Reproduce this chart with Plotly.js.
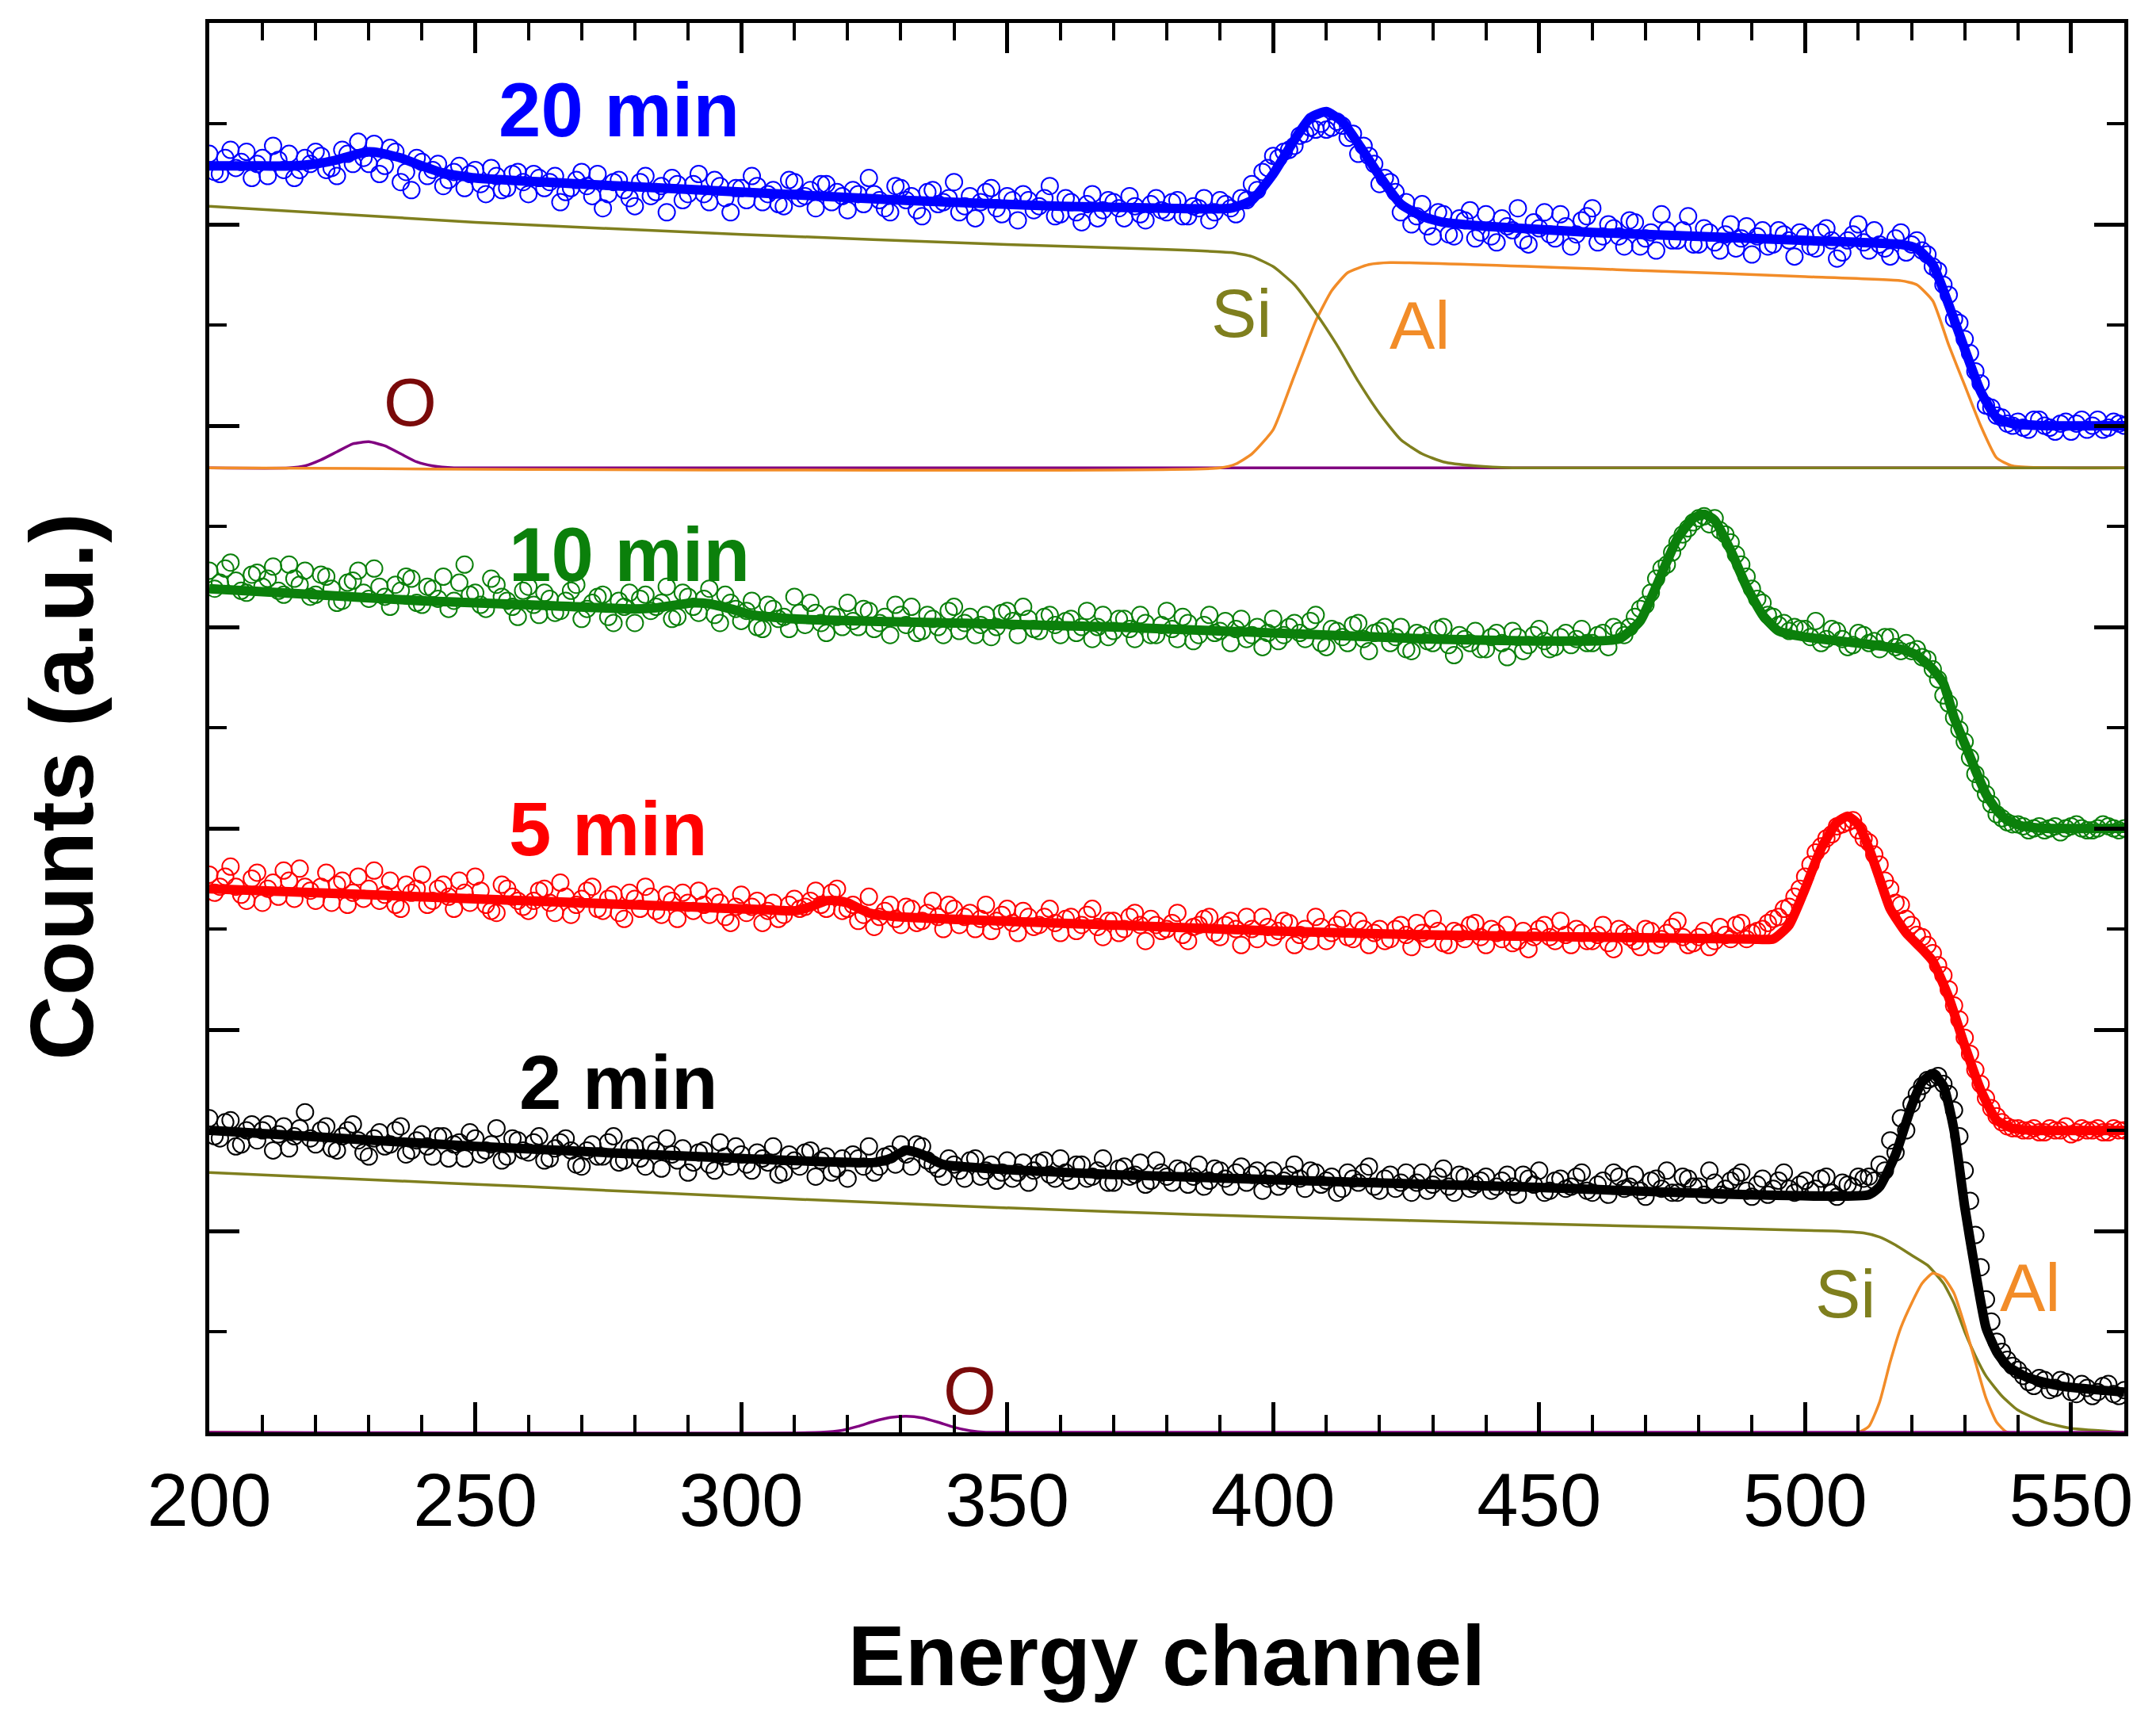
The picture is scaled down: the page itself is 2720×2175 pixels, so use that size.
<!DOCTYPE html>
<html>
<head>
<meta charset="utf-8">
<script src="https://cdn.plot.ly/plotly-3.0.1.min.js"></script>
<style>html,body{margin:0;padding:0;background:#fff;}#chart{width:2720px;height:2175px;}</style>
</head>
<body>
<div id="chart"></div>
<script>
// ---------- measured spectra: even channels ----------
const channels = [
200,202,204,206,208,210,212,214,216,218,
220,222,224,226,228,230,232,234,236,238,
240,242,244,246,248,250,252,254,256,258,
260,262,264,266,268,270,272,274,276,278,
280,282,284,286,288,290,292,294,296,298,
300,302,304,306,308,310,312,314,316,318,
320,322,324,326,328,330,332,334,336,338,
340,342,344,346,348,350,352,354,356,358,
360,362,364,366,368,370,372,374,376,378,
380,382,384,386,388,390,392,394,396,398,
400,402,404,406,408,410,412,414,416,418,
420,422,424,426,428,430,432,434,436,438,
440,442,444,446,448,450,452,454,456,458,
460,462,464,466,468,470,472,474,476,478,
480,482,484,486,488,490,492,494,496,498,
500,502,504,506,508,510,512,514,516,518,
520,522,524,526,528,530,532,534,536,538,
540,542,544,546,548,550,552,554,556,558,
560];

const data20 = [
6.35,6.25,6.37,6.31,6.23,6.33,6.39,6.27,6.23,6.33,
6.36,6.27,6.24,6.35,6.41,6.30,6.25,6.38,6.21,6.17,
6.31,6.27,6.19,6.26,6.18,6.27,6.15,6.24,6.18,6.26,
6.15,6.23,6.21,6.11,6.18,6.26,6.14,6.08,6.21,6.17,
6.09,6.24,6.16,6.06,6.20,6.15,6.25,6.11,6.19,6.06,
6.18,6.24,6.11,6.17,6.09,6.21,6.14,6.08,6.20,6.16,
6.07,6.15,6.23,6.12,6.06,6.18,6.14,6.04,6.17,6.11,
6.21,6.09,6.03,6.16,6.08,6.14,6.02,6.12,6.09,6.19,
6.05,6.11,6.01,6.15,6.07,6.11,6.03,6.09,6.02,6.13,
6.06,6.12,6.04,6.08,6.02,6.12,6.08,6.13,6.20,6.26,
6.34,6.36,6.39,6.45,6.47,6.47,6.51,6.43,6.35,6.34,
6.20,6.21,6.06,6.00,6.10,5.94,6.05,5.94,6.02,5.93,
6.05,5.91,5.99,6.08,5.90,5.98,5.95,6.05,5.89,6.02,
6.08,5.94,5.98,5.89,6.01,5.93,5.87,5.97,5.92,6.04,
5.90,5.96,5.87,6.00,5.93,5.85,5.97,5.90,5.95,5.84,
5.94,5.88,5.98,5.83,5.92,6.00,5.87,5.90,5.84,5.96,
5.90,5.87,5.79,5.70,5.53,5.43,5.27,5.10,5.05,5.01,
5.02,4.98,5.03,4.99,5.01,4.97,5.03,5.00,4.98,5.02,
5.00];

const data10 = [
4.28,4.22,4.32,4.18,4.26,4.20,4.30,4.16,4.24,4.28,
4.16,4.25,4.12,4.22,4.28,4.14,4.20,4.10,4.18,4.24,
4.11,4.19,4.25,4.13,4.31,4.17,4.09,4.21,4.13,4.05,
4.20,4.06,4.14,4.08,4.18,4.04,4.12,4.16,4.02,4.10,
4.02,4.16,4.10,4.20,4.05,4.15,4.07,4.19,4.02,4.12,
4.03,4.13,3.99,4.09,4.05,4.15,4.01,4.07,3.97,4.05,
4.12,4.00,4.08,4.02,3.96,4.06,4.10,3.98,4.04,3.96,
4.10,4.02,3.96,4.06,4.00,4.08,3.96,4.04,3.98,4.06,
3.96,4.04,4.00,3.94,4.06,3.98,4.04,3.94,4.02,3.96,
4.08,3.94,4.02,3.96,4.06,3.98,3.92,4.04,3.96,3.90,
4.04,3.96,4.02,3.94,4.06,3.90,3.98,3.92,4.02,3.88,
3.98,3.92,4.00,3.88,3.96,3.92,4.00,3.86,3.94,3.98,
3.89,3.97,3.85,3.95,3.91,3.99,3.89,3.95,3.91,3.99,
3.92,3.97,4.00,3.96,4.05,4.11,4.24,4.31,4.42,4.49,
4.54,4.51,4.48,4.42,4.31,4.19,4.12,4.05,4.02,4.00,
3.99,4.03,3.94,3.98,3.90,3.97,3.92,3.89,3.95,3.88,
3.88,3.85,3.79,3.66,3.55,3.43,3.27,3.17,3.07,3.03,
3.02,2.99,3.01,3.00,2.98,3.01,3.00,2.99,3.02,3.00,
3.00];

const data5 = [
2.77,2.71,2.81,2.67,2.75,2.63,2.73,2.79,2.65,2.71,
2.64,2.78,2.72,2.62,2.76,2.70,2.64,2.74,2.60,2.68,
2.77,2.64,2.72,2.60,2.68,2.76,2.62,2.58,2.70,2.64,
2.59,2.69,2.63,2.73,2.57,2.65,2.71,2.59,2.67,2.55,
2.65,2.71,2.59,2.67,2.55,2.63,2.69,2.57,2.63,2.53,
2.67,2.61,2.53,2.63,2.57,2.65,2.61,2.69,2.60,2.70,
2.60,2.54,2.66,2.56,2.62,2.52,2.60,2.54,2.64,2.50,
2.60,2.56,2.50,2.62,2.54,2.60,2.48,2.56,2.52,2.60,
2.48,2.56,2.52,2.60,2.46,2.54,2.50,2.58,2.44,2.52,
2.50,2.58,2.44,2.52,2.56,2.46,2.54,2.42,2.50,2.56,
2.46,2.54,2.42,2.50,2.56,2.44,2.52,2.46,2.54,2.42,
2.50,2.45,2.52,2.41,2.48,2.55,2.43,2.49,2.45,2.53,
2.42,2.48,2.52,2.44,2.40,2.50,2.46,2.54,2.42,2.48,
2.44,2.52,2.40,2.48,2.44,2.50,2.42,2.48,2.54,2.42,
2.46,2.41,2.51,2.45,2.53,2.48,2.50,2.55,2.60,2.66,
2.76,2.88,2.95,3.01,3.03,2.99,2.93,2.82,2.70,2.62,
2.52,2.46,2.38,2.27,2.12,1.96,1.80,1.66,1.57,1.52,
1.51,1.50,1.49,1.51,1.50,1.48,1.51,1.50,1.49,1.51,
1.50];

const data2 = [
1.56,1.46,1.55,1.43,1.53,1.50,1.40,1.52,1.47,1.59,
1.43,1.52,1.40,1.50,1.45,1.37,1.49,1.43,1.52,1.40,
1.48,1.37,1.47,1.43,1.36,1.46,1.40,1.51,1.37,1.45,
1.39,1.47,1.36,1.44,1.40,1.32,1.43,1.37,1.47,1.35,
1.42,1.32,1.40,1.46,1.35,1.29,1.39,1.33,1.44,1.32,
1.38,1.30,1.36,1.42,1.29,1.35,1.39,1.27,1.37,1.31,
1.26,1.36,1.42,1.32,1.38,1.43,1.32,1.42,1.33,1.27,
1.33,1.26,1.36,1.30,1.25,1.35,1.29,1.24,1.34,1.28,
1.36,1.25,1.33,1.27,1.36,1.24,1.32,1.28,1.23,1.35,
1.27,1.31,1.23,1.33,1.25,1.30,1.22,1.32,1.28,1.20,
1.30,1.25,1.33,1.21,1.29,1.25,1.19,1.29,1.24,1.32,
1.20,1.28,1.24,1.19,1.29,1.23,1.31,1.19,1.27,1.23,
1.27,1.22,1.28,1.18,1.26,1.30,1.20,1.26,1.22,1.29,
1.19,1.25,1.29,1.21,1.28,1.17,1.26,1.30,1.19,1.26,
1.22,1.30,1.18,1.25,1.29,1.17,1.26,1.21,1.29,1.19,
1.25,1.21,1.27,1.17,1.23,1.27,1.27,1.33,1.45,1.56,
1.63,1.72,1.76,1.73,1.60,1.30,0.98,0.66,0.45,0.36,
0.31,0.25,0.27,0.21,0.26,0.20,0.24,0.18,0.23,0.19,
0.21];

// ---------- measured spectra: odd channels ----------
const channelsOdd = [
201,203,205,207,209,211,213,215,217,219,
221,223,225,227,229,231,233,235,237,239,
241,243,245,247,249,251,253,255,257,259,
261,263,265,267,269,271,273,275,277,279,
281,283,285,287,289,291,293,295,297,299,
301,303,305,307,309,311,313,315,317,319,
321,323,325,327,329,331,333,335,337,339,
341,343,345,347,349,351,353,355,357,359,
361,363,365,367,369,371,373,375,377,379,
381,383,385,387,389,391,393,395,397,399,
401,403,405,407,409,411,413,415,417,419,
421,423,425,427,429,431,433,435,437,439,
441,443,445,447,449,451,453,455,457,459,
461,463,465,467,469,471,473,475,477,479,
481,483,485,487,489,491,493,495,497,499,
501,503,505,507,509,511,513,515,517,519,
521,523,525,527,529,531,533,535,537,539,
541,543,545,547,549,551,553,555,557,559];

const data20Odd = [
6.26,6.33,6.28,6.36,6.30,6.24,6.32,6.35,6.27,6.30,
6.34,6.28,6.37,6.30,6.33,6.40,6.29,6.36,6.26,6.33,
6.24,6.30,6.22,6.29,6.25,6.20,6.28,6.17,6.25,6.21,
6.25,6.18,6.24,6.16,6.22,6.19,6.25,6.15,6.22,6.13,
6.21,6.14,6.19,6.23,6.12,6.20,6.15,6.22,6.13,6.18,
6.12,6.19,6.15,6.10,6.22,6.13,6.17,6.20,6.11,6.14,
6.17,6.10,6.15,6.08,6.19,6.12,6.07,6.16,6.10,6.13,
6.06,6.14,6.11,6.18,6.05,6.12,6.15,6.07,6.13,6.04,
6.13,6.06,6.10,6.03,6.12,6.08,6.14,6.05,6.10,6.07,
6.11,6.04,6.09,6.13,6.06,6.10,6.05,6.12,6.17,6.28,
6.33,6.37,6.44,6.48,6.50,6.48,6.49,6.45,6.39,6.30,
6.23,6.16,6.11,6.04,5.99,6.06,5.95,6.03,6.07,5.96,
5.94,6.03,5.97,5.92,6.01,6.06,5.93,5.99,5.95,6.04,
5.91,6.00,5.94,6.02,5.89,5.96,6.05,5.92,5.97,5.90,
5.98,5.91,5.95,5.88,5.99,5.94,5.89,5.97,5.92,5.96,
5.89,5.96,5.92,5.86,5.95,5.91,5.97,5.88,5.93,5.86,
5.92,5.85,5.77,5.65,5.51,5.36,5.21,5.09,5.04,5.00,
4.99,5.03,5.00,4.97,5.02,5.01,4.98,5.03,4.99,5.01];

const data10Odd = [
4.19,4.29,4.23,4.17,4.27,4.24,4.18,4.31,4.21,4.15,
4.26,4.19,4.13,4.23,4.17,4.29,4.15,4.21,4.25,4.12,
4.20,4.14,4.09,4.22,4.16,4.11,4.24,4.15,4.10,4.18,
4.11,4.17,4.07,4.13,4.21,4.09,4.15,4.05,4.13,4.17,
4.14,4.08,4.12,4.04,4.17,4.10,4.14,4.06,4.16,4.09,
4.08,4.00,4.11,4.04,3.99,4.07,4.12,4.02,4.06,4.00,
4.03,4.09,3.99,4.05,4.11,4.01,3.97,4.06,4.00,4.08,
3.98,4.05,4.01,3.95,4.07,4.03,4.10,3.99,4.05,4.01,
4.03,3.97,4.08,4.00,3.95,4.04,3.99,4.06,3.96,4.01,
3.99,4.05,3.93,4.01,3.97,4.03,3.99,3.94,4.00,3.97,
3.93,4.00,3.97,4.03,3.92,3.99,3.95,4.01,3.94,3.97,
4.00,3.95,3.89,3.97,3.93,3.99,3.91,3.96,3.92,3.89,
3.95,3.92,3.98,3.88,3.96,3.93,3.90,3.97,3.94,3.92,
3.96,3.90,3.98,4.00,4.09,4.17,4.29,4.37,4.46,4.52,
4.55,4.54,4.46,4.36,4.25,4.14,4.06,4.01,3.98,3.99,
3.95,3.92,3.99,3.94,3.91,3.96,3.93,3.95,3.90,3.92,
3.89,3.84,3.74,3.62,3.49,3.35,3.22,3.12,3.05,3.02,
3.01,3.00,2.99,3.01,3.00,3.02,2.99,3.00,3.01,2.99];

const data5Odd = [
2.68,2.76,2.71,2.64,2.78,2.70,2.66,2.74,2.80,2.69,
2.71,2.63,2.74,2.68,2.65,2.79,2.67,2.62,2.72,2.70,
2.62,2.70,2.66,2.74,2.63,2.69,2.59,2.72,2.66,2.61,
2.64,2.70,2.58,2.66,2.62,2.69,2.60,2.65,2.58,2.68,
2.60,2.66,2.57,2.64,2.68,2.59,2.62,2.66,2.56,2.61,
2.58,2.64,2.59,2.55,2.62,2.60,2.64,2.62,2.68,2.59,
2.62,2.57,2.51,2.59,2.55,2.61,2.53,2.58,2.56,2.62,
2.52,2.58,2.55,2.49,2.57,2.53,2.59,2.51,2.56,2.53,
2.55,2.49,2.57,2.51,2.54,2.48,2.56,2.52,2.55,2.49,
2.53,2.47,2.51,2.55,2.48,2.52,2.50,2.56,2.45,2.51,
2.49,2.53,2.47,2.44,2.51,2.48,2.55,2.45,2.50,2.48,
2.44,2.50,2.47,2.53,2.45,2.49,2.42,2.48,2.52,2.46,
2.50,2.45,2.43,2.49,2.46,2.52,2.44,2.47,2.50,2.44,
2.47,2.43,2.50,2.46,2.41,2.49,2.45,2.51,2.46,2.43,
2.49,2.44,2.47,2.52,2.45,2.49,2.53,2.56,2.61,2.70,
2.82,2.91,2.97,3.02,3.04,2.95,2.87,2.74,2.63,2.55,
2.47,2.42,2.32,2.20,2.05,1.88,1.73,1.61,1.54,1.51,
1.50,1.51,1.49,1.50,1.52,1.49,1.50,1.51,1.49,1.50];

const data2Odd = [
1.47,1.54,1.42,1.50,1.45,1.53,1.48,1.41,1.51,1.46,
1.50,1.41,1.47,1.53,1.39,1.46,1.42,1.50,1.38,1.45,
1.42,1.47,1.36,1.44,1.49,1.38,1.43,1.35,1.46,1.40,
1.44,1.35,1.41,1.46,1.33,1.40,1.37,1.44,1.34,1.41,
1.36,1.43,1.31,1.38,1.41,1.34,1.40,1.30,1.37,1.42,
1.33,1.39,1.34,1.28,1.38,1.32,1.40,1.35,1.29,1.36,
1.38,1.32,1.29,1.37,1.33,1.38,1.43,1.35,1.31,1.36,
1.30,1.35,1.27,1.33,1.29,1.26,1.34,1.30,1.35,1.26,
1.29,1.33,1.26,1.30,1.24,1.31,1.27,1.34,1.25,1.29,
1.24,1.30,1.27,1.22,1.31,1.26,1.29,1.24,1.30,1.26,
1.22,1.28,1.26,1.30,1.23,1.27,1.21,1.26,1.29,1.22,
1.26,1.21,1.29,1.24,1.20,1.27,1.22,1.28,1.21,1.25,
1.20,1.25,1.22,1.28,1.23,1.19,1.25,1.21,1.27,1.20,
1.23,1.18,1.27,1.22,1.20,1.25,1.21,1.19,1.27,1.22,
1.18,1.24,1.21,1.27,1.20,1.23,1.18,1.25,1.21,1.23,
1.20,1.26,1.19,1.24,1.22,1.26,1.25,1.30,1.39,1.50,
1.68,1.75,1.77,1.68,1.47,1.15,0.82,0.55,0.40,0.33,
0.28,0.23,0.26,0.22,0.25,0.19,0.22,0.20,0.24,0.18];

// ---------- fitted curves ----------
const fit20X = [200,210,216,220,224,228,230,232,236,240,244,250,270,300,330,360,380,392,396,400,404,407,410,413,416,420,424,428,432,440,460,480,500,518,521,524,527,530,533,536,539,545,560];
const fit20Y = [6.29,6.29,6.29,6.30,6.32,6.35,6.36,6.355,6.33,6.29,6.255,6.23,6.20,6.16,6.12,6.09,6.08,6.08,6.12,6.25,6.42,6.53,6.56,6.51,6.40,6.24,6.10,6.04,6.01,5.99,5.96,5.94,5.92,5.90,5.88,5.80,5.60,5.38,5.17,5.04,5.01,5.00,5.00];

const fit10X = [200,220,240,260,280,284,288,291,294,298,302,310,340,370,400,430,455,465,469,472,476,479,481,483,486,489,492,495,500,510,518,521,524,526,528,530,532,534,536,538,541,545,560];
const fit10Y = [4.19,4.16,4.13,4.11,4.09,4.095,4.11,4.12,4.115,4.09,4.06,4.04,4.02,4.00,3.97,3.94,3.93,3.94,4.03,4.20,4.44,4.54,4.56,4.53,4.38,4.20,4.06,3.98,3.95,3.92,3.89,3.86,3.79,3.72,3.55,3.42,3.29,3.17,3.09,3.04,3.01,3.00,3.00];

const fit5X = [200,230,260,290,305,310,313,316,318,320,324,330,370,400,430,460,490,494,497,500,503,506,508,510,512,514,516,519,522,524,527,530,533,536,539,543,560];
const fit5Y = [2.70,2.67,2.64,2.61,2.595,2.59,2.61,2.64,2.64,2.63,2.58,2.56,2.52,2.49,2.47,2.46,2.45,2.45,2.52,2.70,2.90,3.03,3.06,3.02,2.90,2.75,2.60,2.48,2.40,2.34,2.16,1.92,1.70,1.55,1.51,1.50,1.50];

const fit2X = [200,250,300,325,328,331,334,338,370,445,512,514,517,520,522,524,526,528,530,532,534,536,538,542,548,560];
const fit2Y = [1.50,1.42,1.36,1.34,1.36,1.40,1.38,1.33,1.28,1.22,1.18,1.22,1.38,1.62,1.74,1.78,1.72,1.50,1.12,0.80,0.52,0.40,0.33,0.27,0.23,0.20];

// ---------- fit components, 20 min ----------
const siTopX = [200,250,300,350,380,392,396,400,404,408,412,416,420,424,428,432,438,445,560];
const siTopY = [6.09,6.01,5.95,5.90,5.875,5.86,5.84,5.79,5.70,5.56,5.40,5.22,5.06,4.93,4.86,4.82,4.80,4.79,4.79];
const alTopX = [200,390,393,396,400,404,408,411,414,418,422,470,500,518,521,524,527,530,533,536,539,560];
const alTopY = [4.79,4.79,4.81,4.86,4.98,5.25,5.52,5.67,5.76,5.80,5.81,5.77,5.74,5.72,5.70,5.62,5.40,5.20,5.00,4.84,4.80,4.79];
const oTopX = [200,215,218,221,224,227,230,233,236,239,242,246,560];
const oTopY = [4.79,4.79,4.80,4.83,4.87,4.91,4.92,4.90,4.86,4.82,4.80,4.79,4.79];

// ---------- fit components, 2 min ----------
const siBotX = [200,230,260,300,340,370,400,450,505,511,514,517,520,523,526,528,530,532,534,537,540,545,550,560];
const siBotY = [1.29,1.255,1.22,1.17,1.125,1.095,1.07,1.035,1.00,0.99,0.97,0.93,0.88,0.83,0.74,0.64,0.50,0.38,0.28,0.18,0.11,0.05,0.02,0.00];
const alBotX = [200,510,512,514,516,518,520,522,524,526,528,530,532,534,536,538,560];
const alBotY = [0,0,0.03,0.15,0.35,0.52,0.64,0.74,0.79,0.77,0.69,0.53,0.35,0.17,0.05,0,0];
const oBotX = [200,315,319,322,325,328,331,334,337,340,343,346,560];
const oBotY = [0,0,0.01,0.03,0.055,0.074,0.08,0.072,0.05,0.025,0.008,0,0];

// ---------- labels ----------
const seriesNames = ['20 min','10 min','5 min','2 min'];
const elementNames = ['Si','Al','O'];
const xTitle = 'Energy channel';
const yTitle = 'Counts (a.u.)';

// ---------- styling ----------
const FONT = 'Arial, "Liberation Sans", Helvetica, sans-serif';
const C = {
  blue:'#0000ff', green:'#0b800b', red:'#ff0000', black:'#000000',
  olive:'#7f7f1e', orange:'#f28c28', purple:'#800080', oLabel:'#7a0a0a'
};

function comp(x, y, color) {
  return {x:x, y:y, type:'scatter', mode:'lines', line:{color:color, width:3.5, shape:'spline', smoothing:0.5}, hoverinfo:'skip'};
}
function pts(x, y, color) {
  return {x:x, y:y, type:'scatter', mode:'markers',
    marker:{symbol:'circle-open', size:21, color:color, line:{width:2, color:color}}};
}
function fit(x, y, color) {
  return {x:x, y:y, type:'scatter', mode:'lines', line:{color:color, width:12, shape:'spline', smoothing:0.5}};
}

const traces = [
  comp(oTopX, oTopY, C.purple),
  comp(alTopX, alTopY, C.orange),
  comp(siTopX, siTopY, C.olive),
  comp(siBotX, siBotY, C.olive),
  comp(alBotX, alBotY, C.orange),
  comp(oBotX, oBotY, C.purple),
  pts(channels, data20, C.blue), pts(channelsOdd, data20Odd, C.blue),
  pts(channels, data10, C.green), pts(channelsOdd, data10Odd, C.green),
  pts(channels, data5, C.red), pts(channelsOdd, data5Odd, C.red),
  pts(channels, data2, C.black), pts(channelsOdd, data2Odd, C.black),
  fit(fit20X, fit20Y, C.blue), fit(fit10X, fit10Y, C.green), fit(fit5X, fit5Y, C.red), fit(fit2X, fit2Y, C.black)
];

function lab(text, x, y, color, size, bold) {
  return {text: bold ? '<b>'+text+'</b>' : text, x:x, y:y, xref:'x', yref:'y', showarrow:false,
    xanchor:'center', yanchor:'middle', font:{family:FONT, size:size, color:color}};
}

const annotations = [
  lab(seriesNames[0], 277, 6.57, C.blue, 96, true),
  lab(seriesNames[1], 279, 4.36, C.green, 96, true),
  lab(seriesNames[2], 275, 3.00, C.red, 96, true),
  lab(seriesNames[3], 277, 1.74, C.black, 96, true),
  lab(elementNames[0], 394, 5.56, C.olive, 86, false),
  lab(elementNames[1], 427.6, 5.50, C.orange, 86, false),
  lab(elementNames[2], 237.7, 5.12, C.oLabel, 86, false),
  lab(elementNames[0], 507.6, 0.69, C.olive, 86, false),
  lab(elementNames[1], 542.2, 0.72, C.orange, 86, false),
  lab(elementNames[2], 343, 0.21, C.oLabel, 86, false),
  {text:'<b>'+yTitle+'</b>', xref:'paper', yref:'paper', x:-0.077, y:0.458, textangle:-90,
   showarrow:false, xanchor:'center', yanchor:'middle', font:{family:FONT, size:113, color:'#000'}}
];

const axisCommon = {
  showline:true, linewidth:5, linecolor:'#000', mirror:'ticks',
  ticks:'inside', ticklen:38, tickwidth:5, tickcolor:'#000',
  showgrid:false, zeroline:false, fixedrange:true
};

const layout = {
  width:2720, height:2175,
  margin:{l:264, r:40, t:29, b:368},
  paper_bgcolor:'#fff', plot_bgcolor:'#fff',
  showlegend:false,
  font:{family:FONT, color:'#000'},
  xaxis: Object.assign({}, axisCommon, {
    range:[200,560], tick0:200, dtick:50,
    tickfont:{family:FONT, size:94, color:'#000'},
    minor:{dtick:10, ticks:'inside', ticklen:22, tickwidth:4, tickcolor:'#000', showgrid:false},
    title:{text:'<b>'+xTitle+'</b>', font:{family:FONT, size:108, color:'#000'}, standoff:108}
  }),
  yaxis: Object.assign({}, axisCommon, {
    range:[0,7], tick0:0, dtick:1, showticklabels:false,
    minor:{dtick:0.5, ticks:'inside', ticklen:22, tickwidth:4, tickcolor:'#000', showgrid:false}
  }),
  annotations: annotations
};

Plotly.newPlot('chart', traces, layout, {staticPlot:true, displayModeBar:false});
</script>
</body>
</html>
